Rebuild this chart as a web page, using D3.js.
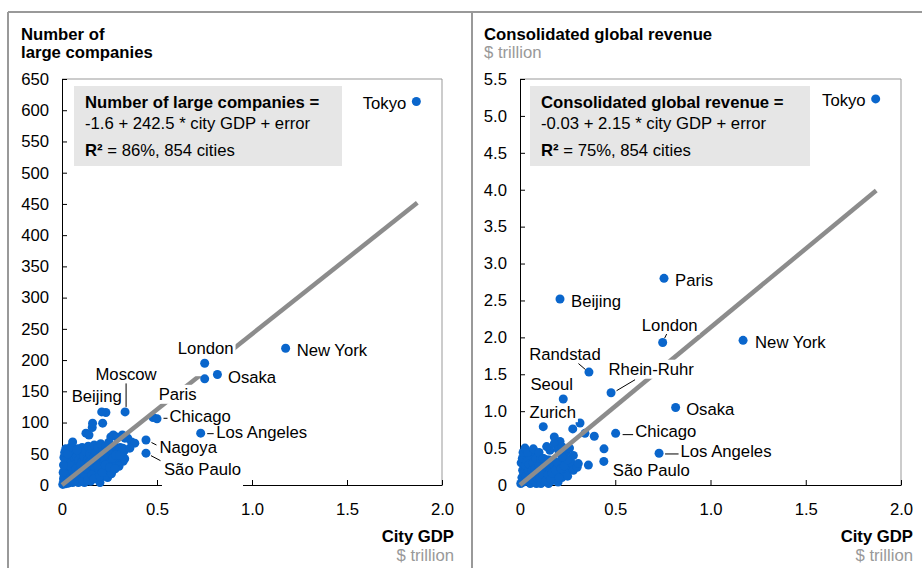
<!DOCTYPE html>
<html>
<head>
<meta charset="utf-8">
<script src="https://cdn.jsdelivr.net/npm/d3@7"></script>
<style>
  body { margin: 0; background: #fff; }
  text { font-family: "Liberation Sans", Arial, sans-serif; font-size: 16.7px; fill: #000; }
</style>
</head>
<body>
<svg id="chart" width="922" height="568"></svg>
<script>
// ---- data ----
var gdpTicks = [0, 0.5, 1.0, 1.5, 2.0];
var companyTicks = [0, 50, 100, 150, 200, 250, 300, 350, 400, 450, 500, 550, 600, 650];
var revenueTicks = [0, 0.5, 1.0, 1.5, 2.0, 2.5, 3.0, 3.5, 4.0, 4.5, 5.0, 5.5];

// fit: intercept, slope (from the boxes)
var companyFit = [-1.6, 242.5];
var revenueFit = [-0.03, 2.15];
var fitGdpMax = 1.87;

// labelled cities, left chart
var companyCities = ["Tokyo", "New York", "London", "Paris", "Osaka", "Moscow", "Beijing", "Chicago", "Los Angeles", "Nagoya", "São Paulo"];
var companyCityGdp = [1.865, 1.177, 0.751, 0.751, 0.818, 0.332, 0.209, 0.500, 0.730, 0.442, 0.442];
var companyCityCount = [614, 219, 195, 170, 177, 117, 117, 106, 83, 72, 51];

// the other cities, left chart [gdp, companies]
var companyOthers = [
  [0.004,1],[0.01,6],[0.012,14],[0.018,2],[0.02,22],[0.024,9],[0.028,30],[0.03,16],[0.034,3],[0.036,38],
  [0.04,24],[0.044,10],[0.046,46],[0.05,32],[0.052,18],[0.056,4],[0.06,40],[0.062,26],[0.066,52],[0.07,12],
  [0.072,34],[0.076,46],[0.08,20],[0.082,58],[0.086,4],[0.088,40],[0.092,28],[0.096,50],[0.1,12],[0.104,36],
  [0.106,60],[0.11,22],[0.114,46],[0.118,4],[0.12,32],[0.124,54],[0.13,14],[0.134,40],[0.138,62],[0.142,24],
  [0.146,50],[0.15,6],[0.154,34],[0.158,58],[0.162,18],[0.166,44],[0.17,64],[0.174,28],[0.178,52],[0.182,10],
  [0.186,38],[0.19,60],[0.194,22],[0.2,46],[0.204,66],[0.21,32],[0.214,54],[0.22,14],[0.224,40],[0.23,62],
  [0.236,26],[0.24,48],[0.246,68],[0.252,36],[0.258,56],[0.264,22],[0.27,44],[0.276,62],[0.282,34],[0.29,52],
  [0.298,42],[0.306,60],[0.314,50],[0.322,38],[0.33,56],[0.2,4],[0.24,12],[0.26,18],[0.3,30],[0.33,42],
  [0.008,10],[0.016,26],[0.022,40],[0.03,8],[0.038,20],[0.044,30],[0.054,12],[0.058,22],[0.064,6],[0.068,18],
  [0.074,26],[0.084,14],[0.09,22],[0.098,32],[0.108,8],[0.116,18],[0.126,26],[0.136,8],[0.144,36],[0.156,16],
  [0.168,10],[0.176,40],[0.19,30],[0.198,14],[0.212,20],[0.228,32],[0.25,28],[0.28,26],[0.32,46],
  [0.006,20],[0.008,32],[0.01,44],[0.014,52],[0.02,58],[0.03,50],
  [0.047,61],[0.056,69],[0.079,56],[0.126,83],[0.142,80],[0.159,92],[0.161,99],[0.214,99],[0.231,116],
  [0.257,77],[0.27,80],[0.287,77],[0.318,80],[0.331,75],[0.346,75],[0.366,69],[0.383,67],
  [0.268,43],[0.283,48],[0.304,48],[0.32,59],[0.357,59],[0.479,108]
];

// labelled cities, right chart
var revenueCities = ["Tokyo", "Paris", "Beijing", "London", "New York", "Randstad", "Rhein-Ruhr", "Seoul", "Zurich", "Osaka", "Chicago", "Los Angeles", "São Paulo"];
var revenueCityGdp = [1.867, 0.756, 0.210, 0.749, 1.171, 0.362, 0.478, 0.227, 0.122, 0.817, 0.502, 0.730, 0.440];
var revenueCityValue = [5.23, 2.80, 2.52, 1.93, 1.96, 1.53, 1.25, 1.165, 0.79, 1.05, 0.70, 0.43, 0.32];

// the other cities, right chart [gdp, revenue]
var revenueOthers = [
  [0.004,0.02],[0.01,0.1],[0.014,0.2],[0.018,0.04],[0.022,0.3],[0.026,0.14],[0.03,0.4],[0.034,0.06],[0.038,0.24],[0.042,0.34],
  [0.046,0.1],[0.05,0.18],[0.054,0.02],[0.058,0.3],[0.062,0.12],[0.066,0.4],[0.07,0.22],[0.074,0.06],[0.078,0.32],[0.082,0.14],
  [0.086,0.02],[0.09,0.26],[0.094,0.38],[0.098,0.08],[0.102,0.18],[0.106,0.3],[0.11,0.02],[0.114,0.12],[0.118,0.24],[0.122,0.36],
  [0.126,0.06],[0.13,0.18],[0.134,0.3],[0.14,0.1],[0.144,0.22],[0.15,0.02],[0.154,0.34],[0.158,0.14],[0.164,0.26],[0.17,0.06],
  [0.176,0.2],[0.182,0.32],[0.188,0.12],[0.194,0.24],[0.2,0.04],[0.206,0.16],[0.212,0.28],[0.22,0.1],[0.228,0.2],[0.244,0.3],
  [0.26,0.22],[0.236,0.16],
  [0.006,0.3],[0.012,0.36],[0.016,0.44],[0.02,0.16],[0.028,0.26],[0.032,0.12],[0.036,0.32],[0.044,0.2],[0.048,0.28],[0.052,0.4],
  [0.06,0.08],[0.064,0.2],[0.068,0.3],[0.076,0.14],[0.08,0.22],[0.084,0.36],[0.088,0.1],[0.092,0.18],[0.1,0.26],[0.104,0.1],
  [0.108,0.36],[0.116,0.2],[0.12,0.14],[0.128,0.26],[0.136,0.06],[0.142,0.34],[0.148,0.14],[0.156,0.24],[0.162,0.08],[0.168,0.16],
  [0.174,0.28],[0.186,0.2],[0.196,0.3],[0.204,0.1],[0.216,0.22],[0.232,0.26],[0.25,0.12],[0.27,0.3],[0.28,0.2],[0.3,0.24],
  [0.026,0.5],[0.04,0.44],[0.07,0.49],[0.1,0.44],[0.122,0.36],[0.157,0.47],[0.14,0.52],[0.18,0.65],[0.21,0.59],[0.18,0.56],
  [0.2,0.48],[0.22,0.52],[0.24,0.44],[0.26,0.5],[0.28,0.4],[0.25,0.34],[0.22,0.38],
  [0.277,0.76],[0.315,0.84],[0.341,0.70],[0.39,0.66],[0.441,0.49],[0.306,0.29],[0.359,0.27]
];

// ---- drawing ----
var svg = d3.select("#chart");
var dotColor = "#0a66cc";
var fitColor = "#8c8c8c";

// panel borders
svg.append("line").attr("x1", 8).attr("x2", 922).attr("y1", 12).attr("y2", 12).attr("stroke", "#999").attr("stroke-width", 2);
svg.append("line").attr("x1", 8).attr("x2", 8).attr("y1", 12).attr("y2", 568).attr("stroke", "#999").attr("stroke-width", 2);
svg.append("line").attr("x1", 472).attr("x2", 472).attr("y1", 12).attr("y2", 568).attr("stroke", "#999").attr("stroke-width", 2);

// label spots relative to the dot (layout only)
var companySpots = {
  "Tokyo": {dx: -10, dy: 7.5, anchor: "end"},
  "New York": {dx: 11, dy: 7.5},
  "London": {dx: 1, dy: -9, anchor: "middle", padB: 18},
  "Paris": {dx: -8, dy: 21, anchor: "end"},
  "Osaka": {dx: 10.5, dy: 8.5},
  "Moscow": {dx: 1, dy: -31.5, anchor: "middle", leader: [1, -28.5, 1, -5]},
  "Beijing": {dx: -5, dy: -9.5, anchor: "middle"},
  "Chicago": {dx: 12.5, dy: 3, leader: [6.5, -0.5, 10.5, -0.5]},
  "Los Angeles": {dx: 15.5, dy: 4.5, leader: [6.5, 0.5, 13, 0.5]},
  "Nagoya": {dx: 13.5, dy: 13, leader: [5.5, 2.5, 10.5, 5]},
  "São Paulo": {dx: 18, dy: 21.5, leader: [5, 2.5, 14.5, 7.5], padB: 8}
};
var revenueSpots = {
  "Tokyo": {dx: -10, dy: 7.5, anchor: "end"},
  "Paris": {dx: 11, dy: 7.5},
  "Beijing": {dx: 11, dy: 8},
  "London": {dx: 7, dy: -12, anchor: "middle", leader: [4, -8.5, 2, -4.5]},
  "New York": {dx: 12, dy: 7.5},
  "Randstad": {dx: -24, dy: -12.5, anchor: "middle", leader: [-10.5, -8.5, -3.5, -2.5]},
  "Rhein-Ruhr": {dx: -2.5, dy: -18, leader: [24, -13, 5.5, -2]},
  "Seoul": {dx: -11.5, dy: -9, anchor: "middle"},
  "Zurich": {dx: 9.5, dy: -8.5, anchor: "middle"},
  "Osaka": {dx: 10.5, dy: 8},
  "Chicago": {dx: 19.5, dy: 3.5, leader: [7, 1.3, 17.5, 1.3]},
  "Los Angeles": {dx: 21.5, dy: 3.7, leader: [6, 0.7, 19.5, 0.7]},
  "São Paulo": {dx: 9, dy: 14.5}
};

function drawPanel(p) {
  var x = d3.scaleLinear().domain([0, 2]).range([p.left, p.right]);
  var y = d3.scaleLinear().domain([0, p.yMax]).range([485, 79]);
  var g = svg.append("g");

  // titles
  p.title.forEach(function(t, i) {
    g.append("text").attr("x", p.titleX).attr("y", 40 + i * 17.5).style("font-weight", "bold").text(t);
  });
  if (p.unit) {
    g.append("text").attr("x", p.titleX).attr("y", 57.5).style("fill", "#999").text(p.unit);
  }

  // top / right frame
  g.append("path")
    .attr("d", "M" + x(0) + "," + y(p.yMax) + "H" + x(2) + "V" + y(0))
    .attr("fill", "none").attr("stroke", "#999").attr("stroke-width", 1);

  // axes
  var ya = g.append("g").attr("transform", "translate(" + x(0) + ",0)")
    .call(d3.axisLeft(y).tickValues(p.ticks).tickSize(-5).tickSizeOuter(0).tickPadding(13).tickFormat(p.fmt));
  var xa = g.append("g").attr("transform", "translate(0," + y(0) + ")")
    .call(d3.axisBottom(x).tickValues(gdpTicks).tickSize(-5).tickSizeOuter(0).tickPadding(18)
      .tickFormat(function(d) { return d === 0 ? "0" : d3.format(".1f")(d); }));
  [ya, xa].forEach(function(a) {
    a.selectAll("text").style("font-size", "16.7px").style("font-family", "'Liberation Sans', Arial, sans-serif");
    a.selectAll("line, path").attr("stroke", "#000");
  });

  // x title
  g.append("text").attr("x", p.right + 12).attr("y", 542).attr("text-anchor", "end").style("font-weight", "bold").text("City GDP");
  g.append("text").attr("x", p.right + 12).attr("y", 560.5).attr("text-anchor", "end").style("fill", "#999").text("$ trillion");

  // other cities
  g.append("g").selectAll("circle").data(p.others).enter().append("circle")
    .attr("cx", function(d) { return x(d[0]); })
    .attr("cy", function(d) { return y(d[1]); })
    .attr("r", 4.5).attr("fill", dotColor);

  // fitted line
  g.append("line")
    .attr("x1", x(0)).attr("y1", Math.min(y(0), y(p.fit[0])))
    .attr("x2", x(fitGdpMax)).attr("y2", y(p.fit[0] + p.fit[1] * fitGdpMax))
    .attr("stroke", fitColor).attr("stroke-width", 4.5);

  var boxLayer = g.append("g");
  var dotLayer = g.append("g");
  var leaderLayer = g.append("g");
  var textLayer = g.append("g");

  p.names.forEach(function(name, i) {
    var cx = x(p.gdp[i]), cy = y(p.vals[i]);
    var s = p.spots[name];
    dotLayer.append("circle").attr("cx", cx).attr("cy", cy).attr("r", 4.5).attr("fill", dotColor);
    var t = textLayer.append("text").attr("x", cx + s.dx).attr("y", cy + s.dy)
      .attr("text-anchor", s.anchor || "start").text(name);
    var b = t.node().getBBox();
    boxLayer.append("rect").attr("x", b.x - 2).attr("y", b.y)
      .attr("width", b.width + 4).attr("height", b.height + (s.padB || 0)).attr("fill", "#fff");
    if (s.leader) {
      leaderLayer.append("line")
        .attr("x1", cx + s.leader[0]).attr("y1", cy + s.leader[1])
        .attr("x2", cx + s.leader[2]).attr("y2", cy + s.leader[3])
        .attr("stroke", "#000").attr("stroke-width", 1);
    }
  });

  // equation box
  var bx = g.append("g");
  bx.append("rect").attr("x", p.boxX).attr("y", 86).attr("width", p.boxW).attr("height", 80).attr("fill", "#e6e6e6");
  bx.append("text").attr("x", p.boxX + 11).attr("y", 107.5).style("font-weight", "bold").text(p.eq[0]);
  bx.append("text").attr("x", p.boxX + 11).attr("y", 129).text(p.eq[1]);
  var r2 = bx.append("text").attr("x", p.boxX + 11).attr("y", 156);
  r2.append("tspan").style("font-weight", "bold").text("R²");
  r2.append("tspan").text(p.eq[2]);
}

drawPanel({
  left: 62, right: 442, yMax: 650, ticks: companyTicks, fmt: d3.format("d"),
  title: ["Number of", "large companies"], unit: null, titleX: 21,
  others: companyOthers, names: companyCities, gdp: companyCityGdp, vals: companyCityCount,
  spots: companySpots, fit: companyFit,
  boxX: 74, boxW: 268,
  eq: ["Number of large companies =", "-1.6 + 242.5 * city GDP + error", " = 86%, 854 cities"]
});

drawPanel({
  left: 520, right: 901, yMax: 5.5, ticks: revenueTicks,
  fmt: function(d) { return d === 0 ? "0" : d3.format(".1f")(d); },
  title: ["Consolidated global revenue"], unit: "$ trillion", titleX: 484,
  others: revenueOthers, names: revenueCities, gdp: revenueCityGdp, vals: revenueCityValue,
  spots: revenueSpots, fit: revenueFit,
  boxX: 530, boxW: 280,
  eq: ["Consolidated global revenue =", "-0.03 + 2.15 * city GDP + error", " = 75%, 854 cities"]
});
</script>
</body>
</html>
